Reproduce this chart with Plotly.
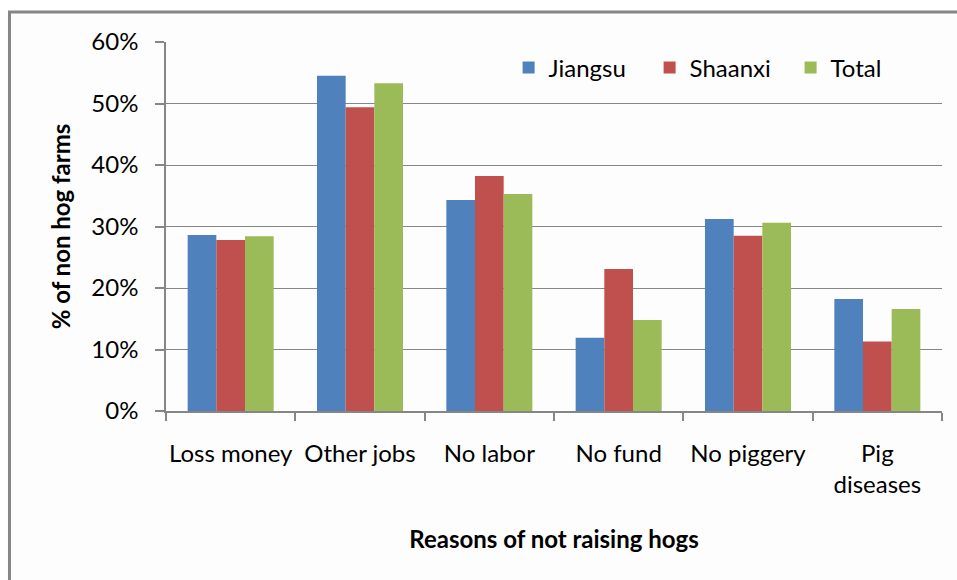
import plotly.graph_objects as go

categories = ["Loss money", "Other jobs", "No labor", "No fund", "No piggery", "Pig<br>diseases"]
jiangsu = [0.286, 0.545, 0.343, 0.119, 0.312, 0.182]
shaanxi = [0.278, 0.494, 0.382, 0.231, 0.285, 0.113]
total = [0.284, 0.533, 0.353, 0.148, 0.306, 0.166]
y_ticks = [0, 0.1, 0.2, 0.3, 0.4, 0.5, 0.6]
y_tick_labels = ["0%", "10%", "20%", "30%", "40%", "50%", "60%"]

FONT = "Lato"
FS = 24
GRID = "#868686"

fig = go.Figure()
fig.add_trace(go.Bar(name="Jiangsu", x=categories, y=jiangsu, marker_color="#4F81BD", marker_line_width=0))
fig.add_trace(go.Bar(name="Shaanxi", x=categories, y=shaanxi, marker_color="#C0504D", marker_line_width=0))
fig.add_trace(go.Bar(name="Total", x=categories, y=total, marker_color="#9BBB59", marker_line_width=0))

fig.update_layout(
    width=957, height=580,
    margin=dict(l=166, r=15, t=42, b=169),
    barmode="group", bargap=0.335, bargroupgap=0,
    paper_bgcolor="white", plot_bgcolor="#fdfdfd",
    font=dict(family=FONT, size=FS, color="black"),
    legend=dict(orientation="h", x=0.4415, y=0.93, xanchor="left", yanchor="middle",
                font=dict(family=FONT, size=FS), bgcolor="rgba(0,0,0,0)",
                entrywidth=96, entrywidthmode="pixels", itemclick=False),
    shapes=[dict(type="rect", xref="paper", yref="paper",
                 x0=-0.2017, x1=1.04, y0=-0.49, y1=1.0813,
                 line=dict(color=GRID, width=3), fillcolor="#fdfdfd", layer="below")],
)
fig.update_xaxes(
    showline=True, linecolor=GRID, linewidth=1.5, automargin=False, tickangle=0,
    ticks="outside", tickson="boundaries", ticklen=8, tickcolor=GRID, tickwidth=1.5,
    ticklabelstandoff=20, showgrid=False,
    title=dict(text="<b>Reasons of not raising hogs</b>", standoff=34, font=dict(family=FONT, size=FS)),
)
fig.update_yaxes(
    range=[0, 0.6], tickvals=y_ticks, ticktext=y_tick_labels, automargin=False,
    showline=True, linecolor=GRID, linewidth=1.5,
    ticks="outside", ticklen=9, tickcolor=GRID, tickwidth=1.5, ticklabelstandoff=12,
    showgrid=True, gridcolor=GRID, gridwidth=1.2, zeroline=False,
    title=dict(text="<b>% of non hog farms</b>", standoff=14, font=dict(family=FONT, size=FS)),
)

fig.write_html("out.html")
